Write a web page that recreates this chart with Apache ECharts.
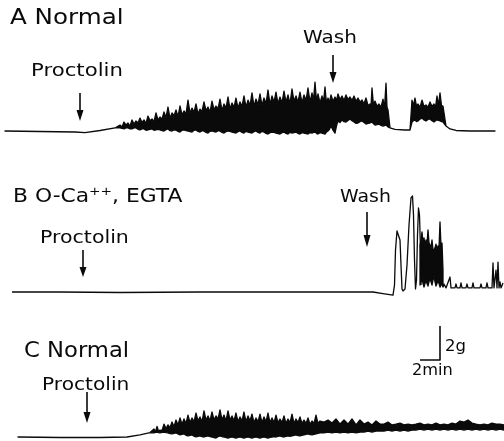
<!DOCTYPE html>
<html><head><meta charset="utf-8">
<script src="https://cdn.jsdelivr.net/npm/echarts@6/dist/echarts.min.js"></script>
<style>html,body{margin:0;padding:0;background:#fff}#c{width:504px;height:441px}</style>
</head><body><div id="c"></div>
<script>
// ---- DATA (time in min, force in g) ----
const panelTitles = ['A Normal', 'B O-Ca\u207A\u207A, EGTA', 'C Normal'];
const eventLabels = ['Proctolin', 'Wash'];
const eventsA = [8.0, 33.3];
const eventsB = [8.3, 36.7];
const eventsC = [8.7];
const scaleBarMin = 2;   // 2 min
const scaleBarG = 2;     // 2 g
const scaleBarAt = 44;   // min

// Trace A: [t, lower envelope, upper envelope]
const traceA = [
 [0.5,0,0],[4.0,-0.03,-0.03],[7.5,-0.06,-0.06],[8.5,-0.09,-0.09],[10.0,0.03,0.03],[11.5,0.18,0.18],
 [12.0,0.18,0.35],[12.2,0.15,0.24],[12.4,0.12,0.53],[12.6,0.18,0.35],[12.8,0.18,0.47],[13.0,0.12,0.29],
 [13.2,0.12,0.65],[13.4,0.18,0.41],[13.6,0.18,0.59],[13.8,0.1,0.47],[14.0,0.06,0.76],[14.2,0.12,0.5],
 [14.4,0.12,0.65],[14.6,0.04,0.45],[14.8,0.06,0.88],[15.0,0.1,0.6],[15.2,0.12,0.71],[15.4,0.04,0.55],
 [15.6,0.06,1.06],[15.8,0.1,0.65],[16.0,0.06,0.82],[16.2,0.02,0.7],[16.4,0,1.12],[16.6,0.08,0.8],
 [16.8,0.12,1.41],[17.0,0.02,0.75],[17.2,0,1.06],[17.4,0.06,0.9],[17.6,0.06,1.24],[17.8,-0.02,0.85],
 [18.0,-0.06,1.47],[18.2,0.04,0.95],[18.4,0.06,1.18],[18.6,0.02,1.0],[18.8,0,1.82],[19.0,-0.04,1.05],
 [19.2,-0.06,1.35],[19.4,0.04,1.1],[19.6,0.06,1.59],[19.8,-0.02,1.0],[20.0,-0.06,1.29],[20.2,0.02,1.15],
 [20.4,0,1.71],[20.6,-0.08,1.2],[20.8,-0.12,1.41],[21.0,-0.02,1.1],[21.2,0,1.76],[21.4,-0.04,1.25],
 [21.6,-0.06,1.47],[21.8,0.02,1.3],[22.0,0,1.88],[22.2,-0.08,1.2],[22.4,-0.12,1.59],[22.6,-0.04,1.35],
 [22.8,0,2.0],[23.0,-0.02,1.3],[23.2,-0.06,1.65],[23.4,-0.1,1.4],[23.6,-0.12,1.94],[23.8,-0.04,1.35],
 [24.0,0,1.71],[24.2,-0.08,1.45],[24.4,-0.12,2.06],[24.6,-0.02,1.4],[24.8,-0.06,1.82],[25.0,-0.1,1.5],
 [25.2,-0.12,2.24],[25.4,-0.04,1.45],[25.6,0,1.88],[25.8,-0.08,1.55],[26.0,-0.12,2.18],[26.2,-0.02,1.5],
 [26.4,-0.06,1.94],[26.6,-0.14,1.6],[26.8,-0.18,2.41],[27.0,-0.1,1.55],[27.2,-0.06,2.06],[27.4,-0.08,1.7],
 [27.6,-0.12,2.29],[27.8,-0.16,1.6],[28.0,-0.18,2.0],[28.2,-0.1,1.65],[28.4,-0.06,2.35],[28.6,-0.14,1.7],
 [28.8,-0.18,2.12],[29.0,-0.08,1.6],[29.2,-0.12,2.47],[29.4,-0.1,1.75],[29.6,-0.06,2.06],[29.8,-0.14,1.7],
 [30.0,-0.18,2.29],[30.2,-0.1,1.65],[30.4,-0.12,2.12],[30.6,-0.16,1.8],[30.8,-0.18,2.53],[31.0,-0.1,1.7],
 [31.2,-0.12,2.24],[31.35,-0.08,1.8],[31.5,-0.06,2.88],[31.65,-0.14,1.75],[31.8,-0.18,2.18],[32.0,-0.1,1.65],
 [32.2,-0.12,2.06],[32.35,-0.16,1.7],[32.5,-0.18,2.59],[32.65,-0.06,1.6],[32.8,0,1.94],[32.95,0.1,1.7],
 [33.1,0.29,2.12],[33.3,0.05,1.75],[33.5,-0.12,2.0],[33.65,0.3,1.8],[33.8,0.59,2.18],[34.0,0.5,1.85],
 [34.2,0.65,2.06],[34.4,0.55,1.8],[34.6,0.53,2.12],[34.8,0.62,1.85],[35.0,0.71,2.0],[35.2,0.6,1.8],
 [35.4,0.53,2.06],[35.6,0.45,1.75],[35.8,0.47,1.94],[36.0,0.55,1.7],[36.2,0.59,1.82],[36.4,0.5,1.6],
 [36.6,0.41,1.94],[36.8,0.45,1.5],[37.0,0.47,1.59],[37.1,0.5,1.45],[37.2,0.53,2.53],[37.35,0.42,1.5],
 [37.5,0.35,1.76],[37.7,0.38,1.45],[37.9,0.41,1.59],[38.1,0.33,1.4],[38.3,0.29,1.88],[38.45,0.32,1.35],
 [38.6,0.35,2.82],[38.7,0.3,1.4],[38.8,0.24,1.24],[39.0,0.18,0.18],
 [39.5,0.09,0.09],[40.5,0.06,0.06],[41.0,0.06,0.06],[41.2,0.53,1.82],[41.35,0.6,1.5],[41.5,0.65,1.94],
 [41.65,0.55,1.45],[41.8,0.59,1.59],[42.0,0.7,1.4],[42.2,0.76,1.82],[42.4,0.65,1.45],[42.6,0.59,1.53],
 [42.8,0.68,1.4],[43.0,0.71,1.71],[43.2,0.6,1.45],[43.4,0.53,1.59],[43.55,0.6,1.4],[43.7,0.65,2.06],
 [43.85,0.62,1.5],[44.0,0.59,2.24],[44.15,0.55,1.5],[44.3,0.53,1.47],[44.6,0.29,0.29],[45.0,0.12,0.12],
 [45.6,0.03,0.03],[47.0,0,0],[49.5,0,0]
];

// Trace B: pen path before the dense burst [t, g]
const traceB_pre = [
 [1.2,0],[6.0,0],[12.0,-0.03],[20.0,0],[30.0,0],[37.3,0],[38.3,-0.09],[39.3,-0.18],
 [39.45,0.41],[39.55,2.47],[39.7,3.59],[39.85,3.65],[40.0,3.06],[40.1,1.59],[40.2,0.18],[40.3,0.06],
 [40.5,0.18],[40.7,1.59],[40.9,3.94],[41.1,5.53],[41.25,5.65],[41.35,4.53],[41.45,1.88],[41.55,0.18],
 [41.65,0.71],[41.75,3.35],[41.85,4.94],[41.95,4.53],[42.05,2.47],[42.1,0.41]
];
// Trace B: dense burst [t, lower, upper]
const traceB_burst = [
 [42.0,0.41,2.76],[42.1,0.6,3.0],[42.2,0.82,3.53],[42.3,0.5,2.9],[42.4,0.29,3.18],[42.5,0.5,2.7],
 [42.6,0.71,3.06],[42.7,0.5,2.8],[42.8,0.35,3.65],[42.9,0.6,2.9],[43.0,0.82,2.76],[43.1,0.6,2.6],
 [43.2,0.41,3.06],[43.3,0.7,2.5],[43.4,0.94,2.47],[43.5,0.6,2.6],[43.6,0.35,2.82],[43.7,0.5,2.5],
 [43.8,0.71,2.71],[43.9,0.5,2.6],[44.0,0.29,4.12],[44.1,0.4,2.7],[44.2,0.47,2.88],[44.3,0.29,1.29]
];
// Trace B: pen path after the burst [t, g]
const traceB_post = [
 [44.3,0.29],[44.4,0.47],[44.6,0.24],[44.8,0.24],[45.0,0.88],[45.1,0.24],[45.5,0.24],[45.6,0.47],
 [45.7,0.24],[46.0,0.24],[46.1,0.53],[46.2,0.24],[46.6,0.24],[46.7,0.47],[46.8,0.24],[47.2,0.24],
 [47.3,0.53],[47.4,0.24],[48.0,0.24],[48.1,0.47],[48.2,0.24],[48.6,0.24],[48.7,0.53],[48.8,0.24],
 [49.2,0.24],[49.3,1.71],[49.4,0.24],[49.6,1.29],[49.7,0.24],[49.8,1.76],[49.9,0.24],[50.0,0.59],
 [50.1,0.24],[50.3,0.53]
];

// Trace C: [t, lower, upper]
const traceC = [
 [1.8,0,0],[6.0,-0.03,-0.03],[10.0,-0.03,-0.03],[12.7,0,0],[14.0,0.12,0.12],[15.0,0.26,0.26],
 [15.4,0.24,0.47],[15.55,0.27,0.3],[15.7,0.29,0.62],[15.85,0.26,0.35],[16.0,0.24,0.41],[16.2,0.27,0.38],
 [16.4,0.29,0.76],[16.6,0.26,0.5],[16.8,0.24,0.71],[17.0,0.2,0.55],[17.2,0.18,0.88],[17.4,0.22,0.6],
 [17.6,0.24,1.0],[17.8,0.18,0.7],[18.0,0.12,1.12],[18.2,0.16,0.75],[18.4,0.18,1.06],[18.6,0.1,0.8],
 [18.8,0.06,1.29],[19.0,0.1,0.85],[19.2,0.12,1.12],[19.4,0.05,0.9],[19.6,0,1.41],[19.8,0.04,0.95],
 [20.0,0.06,1.18],[20.2,0.02,0.9],[20.4,0,1.53],[20.6,0.04,1.0],[20.8,0.06,1.24],[21.0,0.02,0.95],
 [21.2,0,1.47],[21.4,-0.04,1.0],[21.6,-0.06,1.24],[21.8,0.02,1.05],[22.0,0.06,1.59],[22.2,0.02,1.0],
 [22.4,0,1.29],[22.6,-0.04,0.95],[22.8,-0.06,1.53],[23.0,-0.02,1.0],[23.2,0,1.24],[23.4,-0.04,0.95],
 [23.6,-0.06,1.41],[23.8,-0.02,0.9],[24.0,0,1.18],[24.2,-0.04,0.95],[24.4,-0.06,1.47],[24.6,-0.02,0.9],
 [24.8,0,1.24],[25.0,-0.04,0.95],[25.2,-0.06,1.35],[25.4,-0.02,0.85],[25.6,0,1.12],[25.8,-0.04,0.9],
 [26.0,-0.06,1.35],[26.2,-0.02,0.85],[26.4,0,1.18],[26.6,-0.04,0.9],[26.8,-0.06,1.41],[27.0,-0.02,0.85],
 [27.2,0,1.12],[27.4,0.02,0.85],[27.6,0,1.29],[27.8,0.04,0.85],[28.0,0.06,1.06],[28.2,0.02,0.85],
 [28.4,0,1.24],[28.6,0.04,0.8],[28.8,0.06,1.06],[29.0,0.04,0.85],[29.2,0.06,1.35],[29.4,0.1,0.8],
 [29.6,0.12,1.06],[29.8,0.08,0.85],[30.0,0.06,1.18],[30.2,0.1,0.8],[30.4,0.12,1.0],[30.6,0.16,0.8],
 [30.8,0.18,1.12],[31.0,0.14,0.75],[31.2,0.12,0.94],[31.4,0.16,0.8],[31.6,0.18,1.29],[31.8,0.22,0.8],
 [32.0,0.24,0.94],[32.4,0.24,0.88],[32.8,0.29,1.0],[33.2,0.24,0.82],[33.6,0.29,1.06],[34.0,0.24,0.76],
 [34.4,0.29,1.0],[34.8,0.24,0.76],[35.2,0.29,1.06],[35.6,0.24,0.71],[36.0,0.29,1.0],[36.4,0.29,0.76],
 [36.8,0.35,0.88],[37.2,0.29,0.71],[37.6,0.35,0.94],[38.0,0.35,0.76],[38.4,0.35,0.76],[38.8,0.41,0.88],
 [39.2,0.35,0.71],[39.6,0.41,0.76],[40.0,0.35,0.82],[40.4,0.41,0.71],[40.8,0.35,0.76],[41.2,0.41,0.71],
 [41.6,0.41,0.76],[42.0,0.47,0.82],[42.4,0.41,0.71],[42.8,0.47,0.76],[43.2,0.41,0.71],[43.6,0.47,0.82],
 [44.0,0.41,0.71],[44.4,0.47,0.76],[44.8,0.41,0.71],[45.2,0.47,0.82],[45.6,0.41,0.76],[46.0,0.47,0.94],
 [46.4,0.41,0.88],[46.8,0.47,1.0],[47.2,0.41,0.82],[47.6,0.47,0.76],[48.0,0.41,0.71],[48.4,0.47,0.76],
 [48.8,0.41,0.71],[49.2,0.47,0.82],[49.6,0.41,0.76],[50.0,0.47,0.76],[50.4,0.41,0.71]
];

// ---- CHART ----
const INK = '#0a0a0a';
const FONT = '"DejaVu Sans", sans-serif';
const chart = echarts.init(document.getElementById('c'), null, {renderer: 'canvas'});

const grids = [
  {left: 0, width: 504, top: 71.5, height: 68},
  {left: 0, width: 504, top: 190, height: 110.5},
  {left: 0, width: 504, top: 403, height: 37.4},
  {left: 0, width: 504, top: 326, height: 34}
];
const yRanges = [[-0.5, 3.5], [-0.5, 6], [-0.2, 2], [0, 2]];

function bandSeries(idx, samples) {
  return {
    type: 'custom', xAxisIndex: idx, yAxisIndex: idx, data: samples,
    encode: {x: 0, y: [1, 2]}, silent: true, animation: false, clip: false,
    renderItem: function (params, api) {
      if (params.dataIndex !== 0) return null;
      const pts = [];
      for (let i = 0; i < samples.length; i++) pts.push(api.coord([samples[i][0], samples[i][2]]));
      for (let i = samples.length - 1; i >= 0; i--) pts.push(api.coord([samples[i][0], samples[i][1]]));
      return {type: 'polygon', shape: {points: pts},
        style: {fill: INK, stroke: INK, lineWidth: 1.3, lineJoin: 'round'}};
    }
  };
}
function lineSeries(idx, data, w) {
  return {type: 'line', xAxisIndex: idx, yAxisIndex: idx, data: data, symbol: 'none',
    showSymbol: false, silent: true, animation: false, clip: false,
    lineStyle: {color: INK, width: w || 1.3, join: 'round'}};
}

const option = {
  backgroundColor: '#ffffff',
  animation: false,
  grid: grids,
  xAxis: grids.map((g, i) => ({type: 'value', gridIndex: i, min: 0, max: 50.4, show: false})),
  yAxis: grids.map((g, i) => ({type: 'value', gridIndex: i, min: yRanges[i][0], max: yRanges[i][1], show: false})),
  series: [
    bandSeries(0, traceA),
    lineSeries(1, traceB_pre),
    bandSeries(1, traceB_burst),
    lineSeries(1, traceB_post),
    bandSeries(2, traceC),
    lineSeries(3, [[scaleBarAt - scaleBarMin, 0], [scaleBarAt, 0], [scaleBarAt, scaleBarG]], 1.6)
  ]
};
chart.setOption(option);

const px = (i, t) => chart.convertToPixel({xAxisIndex: i}, t);
function txt(str, left, cy, size, sx) {
  return {type: 'text', x: left, y: cy, scaleX: sx, silent: true,
    style: {text: str, x: 0, y: 0, fill: INK, font: size + 'px ' + FONT,
      align: 'left', verticalAlign: 'middle', textAlign: 'left', textVerticalAlign: 'middle'}};
}
function arrow(x, y0, y1, y2) {
  return [
    {type: 'line', silent: true, shape: {x1: x, y1: y0, x2: x, y2: y1 + 1}, style: {stroke: INK, lineWidth: 1.6}},
    {type: 'polygon', silent: true, shape: {points: [[x - 3.5, y1], [x + 3.5, y1], [x, y2]]}, style: {fill: INK}}
  ];
}
const graphics = [
  txt(panelTitles[0], 10, 19, 21, 1.17),
  txt(eventLabels[0], 31, 71, 18, 1.18),
  txt(eventLabels[1], 303, 38, 18, 1.11),
  ...arrow(px(0, eventsA[0]), 93, 110, 121),
  ...arrow(px(0, eventsA[1]), 55, 72, 83),
  txt(panelTitles[1], 13, 197, 20, 1.09),
  txt(eventLabels[0], 40, 238.5, 18, 1.14),
  txt(eventLabels[1], 340, 197.5, 18, 1.05),
  ...arrow(px(1, eventsB[0]), 250, 267, 277),
  ...arrow(px(1, eventsB[1]), 212, 235, 247),
  txt(panelTitles[2], 24, 351.5, 21, 1.08),
  txt(eventLabels[0], 42, 385, 18, 1.12),
  ...arrow(px(2, eventsC[0]), 392, 412, 423),
  txt(scaleBarG + 'g', px(3, scaleBarAt) + 5, 347.5, 15, 1.1),
  txt(scaleBarMin + 'min', px(3, scaleBarAt - scaleBarMin) - 8, 371, 15, 1.08)
];
chart.setOption({graphic: {elements: graphics}});
</script>
</body></html>
